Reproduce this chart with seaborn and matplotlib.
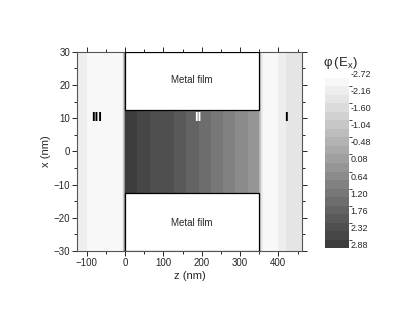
import numpy as np
import matplotlib
matplotlib.use("Agg")
import matplotlib.pyplot as plt
from matplotlib.colors import ListedColormap, BoundaryNorm
from matplotlib.patches import Rectangle
import matplotlib.transforms as mtransforms
import seaborn as sns

# ---------------- data ----------------
# column edges along z (nm) and phase value phi(Ex) in each column
z_edges = [-125, -100, -70, -8, -5, -3, -1, 0, 32, 64, 96, 128, 160, 192, 224,
           256, 288, 320, 350, 352, 354, 357, 360, 380, 400, 420, 440, 462]
phi_vals = [-2.4, -2.6, -2.72, -2.2, -1.2, 0.2, 1.8,
            2.7, 2.5, 2.3, 2.1, 1.9, 1.6, 1.3, 1.0, 0.7, 0.4, 0.1,
            -0.6, -1.3, -1.9, -2.4,
            -2.72, -2.5, -2.3, -2.1, -1.9]
x_edges = [-30, 30]

film_z = [0, 350]
film_x = [12.5, 30]

cbar_ticks = [-2.72, -2.16, -1.60, -1.04, -0.48, 0.08, 0.64, 1.20, 1.76, 2.32, 2.88]

region_labels = ["III", "II", "I"]
region_z = [-75, 190, 420]

# ---------------- style ----------------
sns.set_style("ticks")
plt.rcParams["font.family"] = ["Liberation Sans", "DejaVu Sans"]
plt.rcParams["xtick.direction"] = "out"
plt.rcParams["ytick.direction"] = "out"

n_bands = 20
levels = np.linspace(cbar_ticks[0], cbar_ticks[-1], n_bands + 1)
cmap = ListedColormap(sns.blend_palette(["#f8f8f8", "#3c3c3c"], n_colors=n_bands))
norm = BoundaryNorm(levels, cmap.N, clip=True)

fig = plt.figure(figsize=(4.15, 3.09), dpi=100)
ax = fig.add_axes([0.186, 0.188, 0.542, 0.644])

field = np.array([phi_vals])
ax.pcolormesh(z_edges, x_edges, field, cmap=cmap, norm=norm, shading="flat")

# metal films
for sgn in [1, -1]:
    y0 = film_x[0] if sgn > 0 else -film_x[1]
    ax.add_patch(Rectangle((film_z[0], y0), film_z[1] - film_z[0], film_x[1] - film_x[0],
                           facecolor="white", edgecolor="black", linewidth=0.9, zorder=3))
    ax.text(np.mean(film_z), sgn * 21.5, "Metal film", ha="center", va="center",
            fontsize=7, zorder=4)

for lab, zz in zip(region_labels, region_z):
    ax.text(zz, 10, lab, ha="center", va="center", fontsize=9.5, fontweight="bold",
            color="white" if lab == "II" else "black", zorder=4)

ax.set_xlim(z_edges[0], z_edges[-1])
ax.set_ylim(-30, 30)
ax.set_xticks([-100, 0, 100, 200, 300, 400])
ax.set_xticks(np.arange(-100, 461, 50), minor=True)
ax.set_yticks([-30, -20, -10, 0, 10, 20, 30])
ax.set_yticks(np.arange(-30, 31, 5), minor=True)
ax.tick_params(which="both", top=True, right=True, labelsize=7, width=0.7, pad=1.5)
ax.tick_params(which="major", length=3.5)
ax.tick_params(which="minor", length=2)
for sp in ax.spines.values():
    sp.set_linewidth(0.8)
    sp.set_color("#555555")
ax.set_xlabel("z (nm)", fontsize=8, labelpad=2)
ax.set_ylabel("x (nm)", fontsize=8, labelpad=2)

# colorbar
cax = fig.add_axes([0.783, 0.197, 0.058, 0.551])
cb = fig.colorbar(plt.cm.ScalarMappable(norm=norm, cmap=cmap), cax=cax, ticks=cbar_ticks)
cb.outline.set_visible(False)
cax.invert_yaxis()
cax.tick_params(length=0, labelsize=6.5, pad=1)
cax.set_yticklabels([f"{t:.2f}" for t in cbar_ticks])
shift = mtransforms.ScaledTranslation(0, 4 / 100, fig.dpi_scale_trans)
for lbl in cax.get_yticklabels():
    lbl.set_transform(lbl.get_transform() + shift)
fig.text(0.82, 0.795, r"$\mathregular{\varphi\,(E_x)}$", ha="center", va="center", fontsize=9.5)

fig.savefig("out.png", dpi=100)
